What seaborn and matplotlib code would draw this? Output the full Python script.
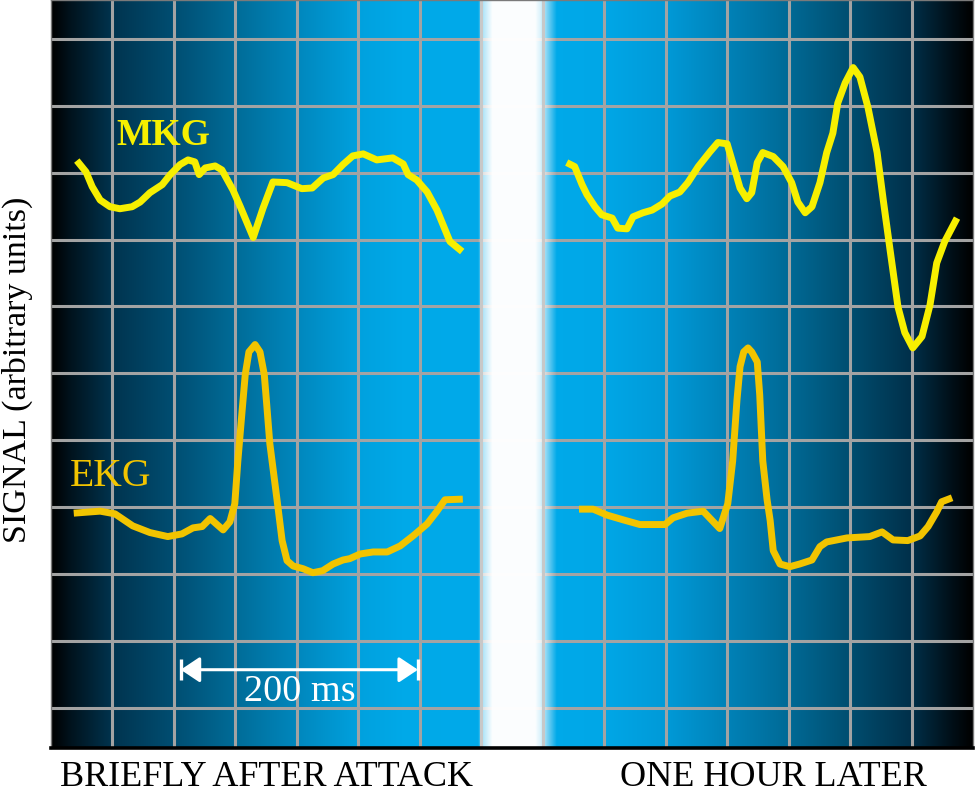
import numpy as np
import pandas as pd
import seaborn as sns
import matplotlib.pyplot as plt
from matplotlib.colors import to_rgb

# values, in grid divisions (x: time, y: signal)
mkg_left_x = [0.42, 0.57, 0.67, 0.80, 0.96, 1.12, 1.32, 1.45, 1.61, 1.81, 1.94, 2.10, 2.23, 2.34,
              2.41, 2.51, 2.67, 2.78, 2.96, 3.08, 3.29, 3.45, 3.61, 3.84, 4.08, 4.25, 4.43, 4.59,
              4.75, 4.91, 5.08, 5.30, 5.56, 5.73, 5.81, 5.95, 6.12, 6.28, 6.49, 6.69]
mkg_left_y = [8.18, 8.01, 7.79, 7.59, 7.49, 7.46, 7.49, 7.56, 7.70, 7.82, 7.97, 8.12, 8.19, 8.16,
              7.97, 8.07, 8.10, 8.04, 7.74, 7.49, 7.03, 7.47, 7.86, 7.85, 7.76, 7.77, 7.92, 7.97,
              8.12, 8.25, 8.28, 8.19, 8.22, 8.13, 7.97, 7.89, 7.71, 7.44, 6.97, 6.82]

ekg_left_x = [0.37, 0.80, 1.04, 1.33, 1.61, 1.90, 2.13, 2.31, 2.46, 2.59, 2.70, 2.80, 2.91, 2.99,
              3.04, 3.11, 3.16, 3.22, 3.32, 3.40, 3.47, 3.51, 3.56, 3.68, 3.76, 3.84, 3.94, 4.10,
              4.26, 4.42, 4.59, 4.75, 4.86, 5.03, 5.24, 5.47, 5.68, 5.89, 6.12, 6.28, 6.41, 6.70]
ekg_left_y = [2.91, 2.94, 2.90, 2.72, 2.62, 2.56, 2.60, 2.69, 2.71, 2.83, 2.74, 2.66, 2.78, 3.05,
              3.69, 4.45, 4.98, 5.32, 5.43, 5.32, 4.98, 4.53, 3.95, 3.09, 2.50, 2.20, 2.12, 2.08,
              2.02, 2.05, 2.15, 2.21, 2.23, 2.30, 2.33, 2.33, 2.42, 2.57, 2.75, 2.94, 3.11, 3.12]

mkg_right_x = [8.39, 8.52, 8.64, 8.72, 8.85, 8.96, 9.13, 9.22, 9.37, 9.47, 9.63, 9.78, 9.94, 10.07,
               10.23, 10.36, 10.53, 10.72, 10.85, 11.00, 11.09, 11.21, 11.32, 11.40, 11.49, 11.58,
               11.75, 11.91, 12.05, 12.15, 12.27, 12.38, 12.51, 12.62, 12.72, 12.80, 12.92, 13.05,
               13.16, 13.29, 13.44, 13.54, 13.65, 13.78, 13.89, 14.02, 14.17, 14.30, 14.41, 14.54,
               14.74]
mkg_right_y = [8.15, 8.09, 7.82, 7.67, 7.49, 7.37, 7.32, 7.17, 7.16, 7.34, 7.40, 7.44, 7.53, 7.65,
               7.71, 7.85, 8.09, 8.31, 8.45, 8.43, 8.15, 7.77, 7.61, 7.70, 8.15, 8.30,
               8.24, 8.09, 7.85, 7.56, 7.40, 7.49, 7.85, 8.30, 8.59, 9.04, 9.34, 9.57,
               9.43, 8.98, 8.30, 7.59, 6.85, 5.99, 5.61, 5.38, 5.55, 6.02, 6.65, 6.97,
               7.32]

ekg_right_x = [8.59, 8.82, 9.05, 9.31, 9.58, 9.99, 10.12, 10.35, 10.61, 10.88, 11.01, 11.09, 11.16,
               11.21, 11.27, 11.34, 11.40, 11.49, 11.53, 11.58, 11.65, 11.70, 11.75, 11.86, 12.02,
               12.18, 12.38, 12.51, 12.62, 12.95, 13.32, 13.52, 13.70, 13.94, 14.14, 14.27, 14.41,
               14.49, 14.66]
ekg_right_y = [2.97, 2.97, 2.88, 2.81, 2.74, 2.74, 2.84, 2.91, 2.94, 2.68, 3.05, 3.69, 4.60,
               5.10, 5.32, 5.38, 5.32, 5.17, 4.68, 3.69, 3.11, 2.80, 2.35, 2.15, 2.11,
               2.15, 2.21, 2.41, 2.48, 2.54, 2.56, 2.63, 2.51, 2.50, 2.57, 2.71, 2.93,
               3.08, 3.14]

panel_labels = ["BRIEFLY AFTER ATTACK", "ONE HOUR LATER"]
panel_label_x = [3.5, 11.76]
scale_bar = [2.11, 5.97]   # 200 ms
ylabel = "SIGNAL (arbitrary units)"

MKG_COLOR = "#f7ef00"
EKG_COLOR = "#f2c400"

sns.set_style("white")
plt.rcParams['font.family'] = ['Liberation Serif', 'DejaVu Serif']

fig = plt.figure(figsize=(9.75, 7.94), dpi=100)
ax = fig.add_axes([51 / 975, 46 / 794, 922 / 975, 748 / 794])
x0, x1, y0, y1 = 0, 15, -0.6, 10.58

# scope background: dark at the outer edges, bright blue towards the middle
stops = [(0.0, "#000000"), (0.3, "#00121c"), (1.0, "#00344f"), (2.0, "#004e72"),
         (3.0, "#006c98"), (4.0, "#0087bd"), (5.0, "#00a1de"), (5.7, "#00a9e8"),
         (7.0, "#00aaea"), (8.0, "#00aaea"), (9.0, "#00a7e7"), (10.0, "#009ad8"),
         (11.0, "#0082b8"), (12.0, "#006a96"), (13.0, "#004e70"), (14.0, "#00304a"),
         (14.6, "#00121c"), (15.0, "#000000")]
xs = np.linspace(x0, x1, 1200)
sx = [s[0] for s in stops]
rgb = np.array([to_rgb(s[1]) for s in stops])
grad = np.stack([np.interp(xs, sx, rgb[:, k]) for k in range(3)], axis=-1)[None, :, :]
ax.imshow(grad, extent=[x0, x1, y0, y1], aspect='auto', zorder=0, interpolation='bilinear')

# grid
for yv in range(0, 11):
    ax.axhline(yv, color="#a3a3a3", lw=2.2, zorder=1)

# white glare band between the two recordings
band_x = [6.95, 7.03, 7.18, 7.87, 7.96, 8.08, 8.22]
band_a = [0.0, 0.7, 0.99, 0.99, 0.85, 0.45, 0.0]
bxs = np.linspace(6.9, 8.3, 300)
band = np.ones((1, bxs.size, 4))
band[0, :, 3] = np.interp(bxs, band_x, band_a)
ax.imshow(band, extent=[6.9, 8.3, y0, y1], aspect='auto', zorder=1.5, interpolation='bilinear')

for xv in range(1, 15):
    c = "#c8c8c8" if xv in (7, 8) else "#a3a3a3"
    ax.axvline(xv, color=c, lw=2.2, zorder=2)

traces = [(mkg_left_x, mkg_left_y, MKG_COLOR), (mkg_right_x, mkg_right_y, MKG_COLOR),
          (ekg_left_x, ekg_left_y, EKG_COLOR), (ekg_right_x, ekg_right_y, EKG_COLOR)]
for tx, ty, col in traces:
    df = pd.DataFrame({'t': tx, 'signal': ty})
    sns.lineplot(data=df, x='t', y='signal', ax=ax, color=col, lw=5.0, sort=False,
                 estimator=None, zorder=4, solid_joinstyle='round', solid_capstyle='butt')

ax.text(1.07, 8.42, "MKG", color=MKG_COLOR, fontsize=27, fontweight='bold', zorder=5)
ax.text(0.31, 3.32, "EKG", color=EKG_COLOR, fontsize=28.5, zorder=5)

# 200 ms scale bar
ax.annotate('', xy=(scale_bar[1], 0.57), xytext=(scale_bar[0], 0.57),
            arrowprops=dict(arrowstyle='<|-|>,head_length=0.45,head_width=0.3',
                            color='white', lw=2.2, mutation_scale=26, shrinkA=0, shrinkB=0),
            zorder=5)
for bx in scale_bar:
    ax.plot([bx, bx], [0.41, 0.73], color='white', lw=2.4, zorder=5, solid_capstyle='butt')
ax.text(sum(scale_bar) / 2, 0.1, "200 ms", color='white', fontsize=27.5, ha='center',
        va='baseline', zorder=5)

for lab, lx in zip(panel_labels, panel_label_x):
    ax.text(lx, -0.061, lab, transform=ax.get_xaxis_transform(), fontsize=26,
            ha='center', va='bottom', color='black')
ax.text(-0.0530, 0.505, ylabel, transform=ax.transAxes, rotation=90, fontsize=24.5,
        ha='left', va='center', color='black')

ax.set_xlim(x0, x1)
ax.set_ylim(y0, y1)
ax.set_xticks([])
ax.set_yticks([])
ax.set_xlabel("")
ax.set_ylabel("")
for side in ['left', 'right', 'top']:
    ax.spines[side].set_color('#7a7a7a')
    ax.spines[side].set_linewidth(1.0)
ax.spines['bottom'].set_color('black')
ax.spines['bottom'].set_linewidth(2.6)

fig.savefig("out.png", dpi=100)
